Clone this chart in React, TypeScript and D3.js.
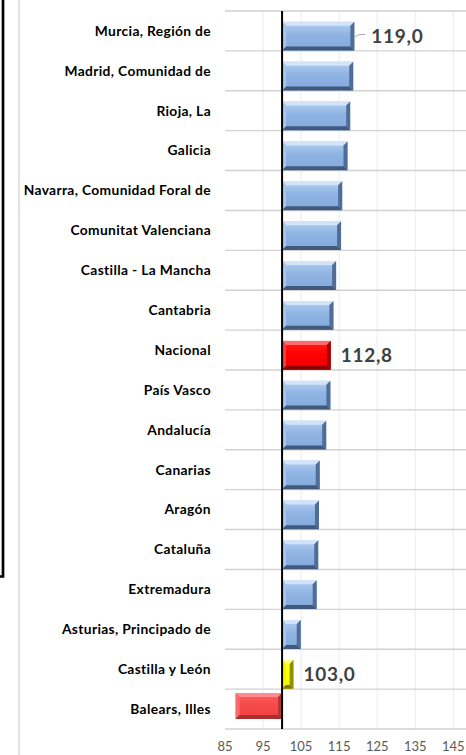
import React from "react";
import * as d3 from "d3";

const categories = [
  "Murcia, Región de",
  "Madrid, Comunidad de",
  "Rioja, La",
  "Galicia",
  "Navarra, Comunidad Foral de",
  "Comunitat Valenciana",
  "Castilla - La Mancha",
  "Cantabria",
  "Nacional",
  "País Vasco",
  "Andalucía",
  "Canarias",
  "Aragón",
  "Cataluña",
  "Extremadura",
  "Asturias, Principado de",
  "Castilla y León",
  "Balears, Illes",
];
const values = [119.0, 118.7, 117.9, 117.2, 115.8, 115.5, 114.2, 113.5, 112.8, 112.7, 111.6, 109.9, 109.7, 109.5, 109.1, 104.9, 103.0, 87.8];
// kind: b = blue region, n = national, y = highlighted min above, r = lowest
const kinds = ["b", "b", "b", "b", "b", "b", "b", "b", "n", "b", "b", "b", "b", "b", "b", "b", "y", "r"];
const labelled = ["Murcia, Región de", "Nacional", "Castilla y León"];
const xTicks = [85, 95, 105, 115, 125, 135, 145];
const baseline = 100;

const palette: Record<string, { top: string; left: string; right: string; bottom: string; g0: string; g1: string; g2: string }> = {
  b: { top: "#d3e4fa", left: "#a9c5ea", right: "#4f6d96", bottom: "#41597c", g0: "#b4cff2", g1: "#8fb4e3", g2: "#82a9dc" },
  n: { top: "#ff6a6a", left: "#ff3a3a", right: "#a80000", bottom: "#8c0000", g0: "#ff2020", g1: "#ff0000", g2: "#f00000" },
  y: { top: "#ffff90", left: "#f4f400", right: "#8f8f00", bottom: "#7a7a00", g0: "#ffff30", g1: "#ffff00", g2: "#f0f000" },
  r: { top: "#ff8c8c", left: "#f86a6a", right: "#b33535", bottom: "#a53030", g0: "#ff6060", g1: "#f74a4a", g2: "#f04040" },
};

export default function App() {
  const W = 466;
  const H = 755;
  const x = d3.scaleLinear().domain([85, 145]).range([225, 453.3]);
  const y = d3.scaleBand<string>().domain(categories).range([11, 729]).padding(0);
  const bw = y.bandwidth();
  const font = "Lato, 'Open Sans', sans-serif";

  const bars = categories.map((c, i) => {
    const v = values[i];
    const k = kinds[i];
    const x0 = Math.min(x(baseline), x(v));
    const x1 = Math.max(x(baseline), x(v));
    const band = y(c)!;
    let y0 = band + bw * 0.27;
    let y1 = band + bw - 0.3;
    if (k === "r") {
      y0 = band + bw * 0.1;
      y1 = band + bw * 0.75;
    }
    const p = palette[k];
    const b = Math.min(4, (x1 - x0) / 3, (y1 - y0) / 3);
    return (
      <g key={c}>
        <rect x={x0} y={y0} width={x1 - x0} height={y1 - y0} fill={`url(#grad-${k})`} />
        <polygon points={`${x0},${y0} ${x1},${y0} ${x1 - b},${y0 + b} ${x0 + b},${y0 + b}`} fill={p.top} />
        <polygon points={`${x0},${y0} ${x0 + b},${y0 + b} ${x0 + b},${y1 - b} ${x0},${y1}`} fill={p.left} />
        <polygon points={`${x1},${y0} ${x1},${y1} ${x1 - b},${y1 - b} ${x1 - b},${y0 + b}`} fill={p.right} />
        <polygon points={`${x0},${y1} ${x1},${y1} ${x1 - b},${y1 - b} ${x0 + b},${y1 - b}`} fill={p.bottom} />
      </g>
    );
  });

  const valueLabels = categories.map((c, i) => {
    if (!labelled.includes(c)) return null;
    const v = values[i];
    const band = y(c)!;
    const cy = band + bw * 0.27 + (bw * 0.73) / 2;
    const xe = x(v);
    const isFirst = i === 0;
    const tx = isFirst ? xe + 17 : xe + 10;
    return (
      <g key={"lbl" + c}>
        {isFirst && (
          <path d={`M${xe},${cy + 1} L${xe + 4},${cy - 1.5} L${xe + 11},${cy - 2}`} stroke="#a6a6a6" strokeWidth={1} fill="none" />
        )}
        <text x={tx} y={cy} dy="0.36em" fontFamily={font} fontWeight={700} fontSize={19} fill="#404040" letterSpacing={0.7}>
          {d3.format(".1f")(v).replace(".", ",")}
        </text>
      </g>
    );
  });

  return (
    <svg width={W} height={H} style={{ position: "absolute", left: 0, top: 0, display: "block", background: "#fff" }}>
      <defs>
        {Object.keys(palette).map((k) => (
          <linearGradient key={k} id={`grad-${k}`} x1="0" y1="0" x2="0" y2="1">
            <stop offset="0" stopColor={palette[k].g0} />
            <stop offset="0.45" stopColor={palette[k].g1} />
            <stop offset="1" stopColor={palette[k].g2} />
          </linearGradient>
        ))}
      </defs>
      <rect x={0} y={0} width={W} height={H} fill="#fff" />
      {/* chart area border */}
      <line x1={19} x2={19} y1={0} y2={H} stroke="#d9d9d9" strokeWidth={1.5} />
      {/* outer black frame (partially visible) */}
      <path d="M0,576.5 H3 V0" stroke="#000" strokeWidth={2.7} fill="none" />
      {/* vertical gridlines */}
      {xTicks.slice(1).map((t) => (
        <line key={"vg" + t} x1={x(t)} x2={x(t)} y1={11} y2={729} stroke="#ececec" strokeWidth={1} />
      ))}
      {/* horizontal gridlines */}
      {d3.range(categories.length + 1).map((i) => (
        <line key={"hg" + i} x1={225} x2={W} y1={11 + i * bw} y2={11 + i * bw} stroke="#d2d2d2" strokeWidth={1.4} />
      ))}
      {bars}
      {/* baseline at 100 */}
      <line x1={x(baseline)} x2={x(baseline)} y1={11} y2={729} stroke="#000" strokeWidth={2} />
      {valueLabels}
      {/* category labels */}
      {categories.map((c) => (
        <text key={"cat" + c} x={211} y={y(c)! + bw / 2} dy="0.35em" textAnchor="end" fontFamily={font} fontWeight={700} fontSize={13.8} letterSpacing={0.35} fill="#000">
          {c}
        </text>
      ))}
      {/* x tick labels */}
      {xTicks.map((t) => (
        <text key={"xt" + t} x={x(t)} y={746.5} dy="0.35em" textAnchor="middle" fontFamily={font} fontSize={13} fill="#595959">
          {t}
        </text>
      ))}
    </svg>
  );
}
